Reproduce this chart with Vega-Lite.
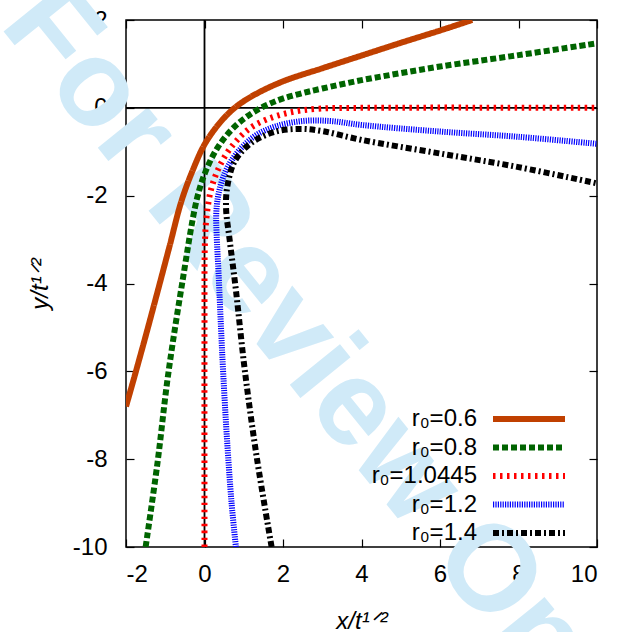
{
  "$schema": "https://vega.github.io/schema/vega-lite/v6.json",
  "width": 471,
  "height": 527,
  "autosize": {"type": "none"},
  "padding": {"left": 126, "top": 20, "right": 21, "bottom": 85},
  "background": "white",
  "config": {
    "font": "Liberation Sans",
    "view": {"stroke": "black", "strokeWidth": 1.5},
    "axis": {
      "grid": false,
      "domain": false,
      "tickColor": "black",
      "tickWidth": 1.2,
      "tickSize": -8,
      "labelFont": "Liberation Sans",
      "labelFontSize": 24,
      "labelColor": "black",
      "labelExpr": "'' + datum.value",
      "titleFont": "Liberation Sans",
      "titleFontSize": 24,
      "titleFontWeight": "normal",
      "titleFontStyle": "italic",
      "titleColor": "black"
    },
    "legend": {
      "labelFont": "Liberation Sans",
      "labelFontSize": 24,
      "labelColor": "black",
      "symbolType": "M-3,0H3",
      "symbolSize": 576,
      "symbolStrokeWidth": 6,
      "labelAlign": "right",
      "labelOffset": -67,
      "rowPadding": 1.5,
      "labelLimit": 300
    }
  },
  "datasets": {
    "wm": [{"x": 3.15, "y": -6.05, "t": "For Review Only"}],
    "curves": [
      {"s": "r₀=0.6", "i": 1, "x": -2.0, "y": -6.8},
      {"s": "r₀=0.6", "i": 2, "x": -1.8, "y": -6.17},
      {"s": "r₀=0.6", "i": 3, "x": -1.5, "y": -5.2},
      {"s": "r₀=0.6", "i": 4, "x": -1.2, "y": -4.2},
      {"s": "r₀=0.6", "i": 5, "x": -0.89, "y": -3.15},
      {"s": "r₀=0.6", "i": 6, "x": -0.59, "y": -2.13},
      {"s": "r₀=0.6", "i": 7, "x": -0.29, "y": -1.4},
      {"s": "r₀=0.6", "i": 8, "x": 0.01, "y": -0.82},
      {"s": "r₀=0.6", "i": 9, "x": 0.41, "y": -0.32},
      {"s": "r₀=0.6", "i": 10, "x": 0.81, "y": 0.03},
      {"s": "r₀=0.6", "i": 11, "x": 1.32, "y": 0.32},
      {"s": "r₀=0.6", "i": 12, "x": 2.02, "y": 0.61},
      {"s": "r₀=0.6", "i": 13, "x": 3.0, "y": 0.9},
      {"s": "r₀=0.6", "i": 14, "x": 4.0, "y": 1.19},
      {"s": "r₀=0.6", "i": 15, "x": 5.0, "y": 1.48},
      {"s": "r₀=0.6", "i": 16, "x": 6.0, "y": 1.76},
      {"s": "r₀=0.6", "i": 17, "x": 6.82, "y": 2.0},

      {"s": "r₀=0.8", "i": 1, "x": -1.5, "y": -10.0},
      {"s": "r₀=0.8", "i": 2, "x": -1.2, "y": -8.1},
      {"s": "r₀=0.8", "i": 3, "x": -0.93, "y": -6.1},
      {"s": "r₀=0.8", "i": 4, "x": -0.57, "y": -4.0},
      {"s": "r₀=0.8", "i": 5, "x": -0.2, "y": -2.1},
      {"s": "r₀=0.8", "i": 6, "x": 0.01, "y": -1.49},
      {"s": "r₀=0.8", "i": 7, "x": 0.31, "y": -0.94},
      {"s": "r₀=0.8", "i": 8, "x": 0.71, "y": -0.48},
      {"s": "r₀=0.8", "i": 9, "x": 1.21, "y": -0.12},
      {"s": "r₀=0.8", "i": 10, "x": 1.81, "y": 0.15},
      {"s": "r₀=0.8", "i": 11, "x": 2.43, "y": 0.32},
      {"s": "r₀=0.8", "i": 12, "x": 3.0, "y": 0.44},
      {"s": "r₀=0.8", "i": 13, "x": 4.0, "y": 0.63},
      {"s": "r₀=0.8", "i": 14, "x": 5.0, "y": 0.79},
      {"s": "r₀=0.8", "i": 15, "x": 6.0, "y": 0.94},
      {"s": "r₀=0.8", "i": 16, "x": 8.0, "y": 1.2},
      {"s": "r₀=0.8", "i": 17, "x": 10.0, "y": 1.47},

      {"s": "r₀=1.0445", "i": 1, "x": 0.0, "y": -10.0},
      {"s": "r₀=1.0445", "i": 2, "x": 0.0, "y": -5.0},
      {"s": "r₀=1.0445", "i": 3, "x": 0.01, "y": -3.1},
      {"s": "r₀=1.0445", "i": 4, "x": 0.05, "y": -2.5},
      {"s": "r₀=1.0445", "i": 5, "x": 0.17, "y": -1.85},
      {"s": "r₀=1.0445", "i": 6, "x": 0.4, "y": -1.3},
      {"s": "r₀=1.0445", "i": 7, "x": 0.72, "y": -0.85},
      {"s": "r₀=1.0445", "i": 8, "x": 1.15, "y": -0.47},
      {"s": "r₀=1.0445", "i": 9, "x": 1.6, "y": -0.26},
      {"s": "r₀=1.0445", "i": 10, "x": 2.2, "y": -0.1},
      {"s": "r₀=1.0445", "i": 11, "x": 2.9, "y": -0.02},
      {"s": "r₀=1.0445", "i": 12, "x": 4.0, "y": 0.0},
      {"s": "r₀=1.0445", "i": 13, "x": 10.0, "y": 0.0},

      {"s": "r₀=1.2", "i": 1, "x": 0.8, "y": -10.0},
      {"s": "r₀=1.2", "i": 2, "x": 0.69, "y": -9.0},
      {"s": "r₀=1.2", "i": 3, "x": 0.57, "y": -7.5},
      {"s": "r₀=1.2", "i": 4, "x": 0.48, "y": -6.1},
      {"s": "r₀=1.2", "i": 5, "x": 0.42, "y": -5.0},
      {"s": "r₀=1.2", "i": 6, "x": 0.36, "y": -3.8},
      {"s": "r₀=1.2", "i": 7, "x": 0.31, "y": -2.9},
      {"s": "r₀=1.2", "i": 8, "x": 0.3, "y": -2.4},
      {"s": "r₀=1.2", "i": 9, "x": 0.36, "y": -1.95},
      {"s": "r₀=1.2", "i": 10, "x": 0.56, "y": -1.4},
      {"s": "r₀=1.2", "i": 11, "x": 0.91, "y": -0.94},
      {"s": "r₀=1.2", "i": 12, "x": 1.32, "y": -0.62},
      {"s": "r₀=1.2", "i": 13, "x": 1.82, "y": -0.42},
      {"s": "r₀=1.2", "i": 14, "x": 2.5, "y": -0.3},
      {"s": "r₀=1.2", "i": 15, "x": 3.2, "y": -0.3},
      {"s": "r₀=1.2", "i": 16, "x": 4.0, "y": -0.39},
      {"s": "r₀=1.2", "i": 17, "x": 6.0, "y": -0.54},
      {"s": "r₀=1.2", "i": 18, "x": 8.0, "y": -0.66},
      {"s": "r₀=1.2", "i": 19, "x": 10.0, "y": -0.82},

      {"s": "r₀=1.4", "i": 1, "x": 1.71, "y": -10.0},
      {"s": "r₀=1.4", "i": 2, "x": 1.33, "y": -7.95},
      {"s": "r₀=1.4", "i": 3, "x": 1.03, "y": -6.0},
      {"s": "r₀=1.4", "i": 4, "x": 0.8, "y": -4.15},
      {"s": "r₀=1.4", "i": 5, "x": 0.64, "y": -3.0},
      {"s": "r₀=1.4", "i": 6, "x": 0.55, "y": -2.3},
      {"s": "r₀=1.4", "i": 7, "x": 0.58, "y": -1.8},
      {"s": "r₀=1.4", "i": 8, "x": 0.78, "y": -1.2},
      {"s": "r₀=1.4", "i": 9, "x": 1.22, "y": -0.78},
      {"s": "r₀=1.4", "i": 10, "x": 1.82, "y": -0.54},
      {"s": "r₀=1.4", "i": 11, "x": 2.45, "y": -0.48},
      {"s": "r₀=1.4", "i": 12, "x": 3.0, "y": -0.53},
      {"s": "r₀=1.4", "i": 13, "x": 4.0, "y": -0.73},
      {"s": "r₀=1.4", "i": 14, "x": 6.0, "y": -1.04},
      {"s": "r₀=1.4", "i": 15, "x": 8.0, "y": -1.35},
      {"s": "r₀=1.4", "i": 16, "x": 10.0, "y": -1.72}
    ]
  },
  "resolve": {"axis": {"x": "independent", "y": "independent"}},
  "layer": [
    {
      "data": {"name": "wm"},
      "mark": {"type": "text", "angle": 51, "fontSize": 122, "fontWeight": "bold", "color": "#d0eaf8", "align": "center", "baseline": "middle", "font": "Liberation Sans"},
      "encoding": {
        "x": {"field": "x", "type": "quantitative", "scale": {"domain": [-2, 10], "nice": false, "zero": false}, "axis": null},
        "y": {"field": "y", "type": "quantitative", "scale": {"domain": [-10, 2], "nice": false, "zero": false}, "axis": null},
        "text": {"field": "t"}
      }
    },
    {
      "data": {"values": [{}]},
      "mark": {"type": "rule", "color": "black", "strokeWidth": 1.8},
      "encoding": {
        "x": {"datum": 0, "type": "quantitative", "axis": {"orient": "top", "labels": false, "title": null, "values": [-2, 0, 2, 4, 6, 8, 10]}}
      }
    },
    {
      "data": {"values": [{}]},
      "mark": {"type": "rule", "color": "black", "strokeWidth": 1.8},
      "encoding": {
        "y": {"datum": 0, "type": "quantitative", "axis": {"orient": "right", "labels": false, "title": null, "values": [-10, -8, -6, -4, -2, 0, 2]}}
      }
    },
    {
      "data": {"name": "curves"},
      "mark": {"type": "line", "strokeWidth": 6, "interpolate": "catmull-rom", "clip": true},
      "encoding": {
        "x": {"field": "x", "type": "quantitative", "axis": {"orient": "bottom", "values": [-2, 0, 2, 4, 6, 8, 10], "title": "x/t¹ᐟ²", "labelPadding": 23, "titlePadding": 23}},
        "y": {"field": "y", "type": "quantitative", "axis": {"orient": "left", "values": [-10, -8, -6, -4, -2, 0, 2], "title": "y/t¹ᐟ²", "labelPadding": 27, "titlePadding": 20}},
        "color": {
          "field": "s", "type": "nominal",
          "scale": {"domain": ["r₀=0.6", "r₀=0.8", "r₀=1.0445", "r₀=1.2", "r₀=1.4"], "range": ["#c04000", "#006400", "#ff0000", "#0000ff", "#000000"]},
          "legend": {"title": null, "orient": "none", "legendX": 388, "legendY": 384}
        },
        "strokeDash": {
          "field": "s", "type": "nominal",
          "scale": {"domain": ["r₀=0.6", "r₀=0.8", "r₀=1.0445", "r₀=1.2", "r₀=1.4"], "range": [[1, 0], [6, 3], [2.5, 4.5], [1.2, 1.2], [6, 3, 2, 3]]},
          "legend": {"title": null, "orient": "none", "legendX": 388, "legendY": 384}
        },
        "order": {"field": "i", "type": "quantitative"}
      }
    }
  ]
}
